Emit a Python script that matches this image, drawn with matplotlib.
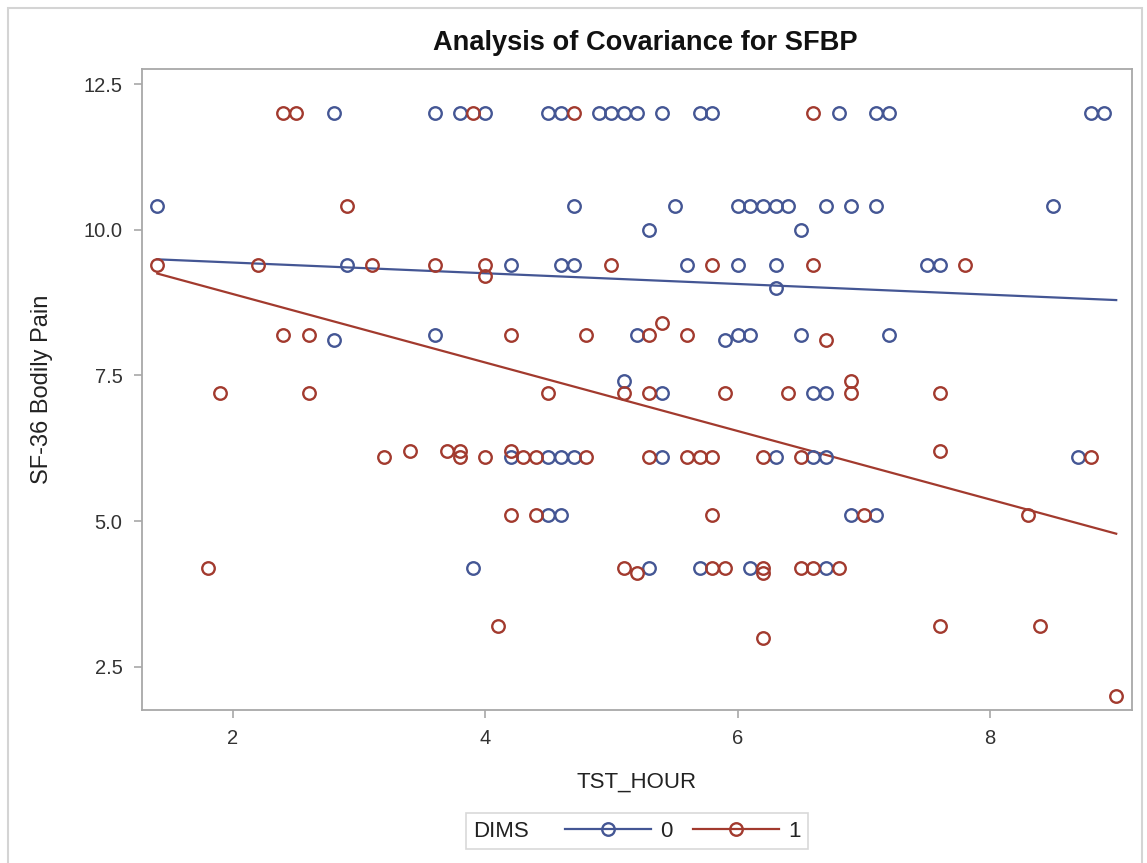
import matplotlib

matplotlib.use("Agg")
import matplotlib.pyplot as plt
import numpy as np
from matplotlib.lines import Line2D
from matplotlib.offsetbox import HPacker
from matplotlib.patches import Rectangle

# DIMS = 0 (blue): TST_HOUR and SF-36 bodily pain, grouped by pain score rows
dims0_x = [2.8, 3.6, 3.8, 4.0, 4.5, 4.6, 4.9, 5.0, 5.1, 5.2, 5.4, 5.7, 5.8, 6.8, 7.1, 7.2, 8.8, 8.9,
           1.4, 4.7, 5.5, 6.0, 6.1, 6.2, 6.3, 6.4, 6.7, 6.9, 7.1, 8.5,
           5.3, 6.5,
           2.9, 4.2, 4.6, 4.7, 5.6, 6.0, 6.3, 7.5, 7.6,
           6.3,
           3.6, 5.2, 6.0, 6.1, 6.5, 7.2,
           2.8, 5.9,
           5.1,
           5.4, 6.6, 6.7,
           4.2, 4.5, 4.6, 4.7, 5.4, 6.3, 6.6, 6.7, 8.7,
           4.5, 4.6, 6.9, 7.1,
           3.9, 5.3, 5.7, 6.1, 6.7]
dims0_y = [12.0] * 18 + [10.4] * 12 + [10.0] * 2 + [9.4] * 9 + [9.0] + [8.2] * 6 + [8.1] * 2 \
    + [7.4] + [7.2] * 3 + [6.1] * 9 + [5.1] * 4 + [4.2] * 5

# DIMS = 1 (red)
dims1_x = [2.4, 2.5, 3.9, 4.7, 6.6,
           2.9,
           1.4, 2.2, 3.1, 3.6, 4.0, 5.0, 5.8, 6.6, 7.8,
           4.0,
           5.4,
           2.4, 2.6, 4.2, 4.8, 5.3, 5.6,
           6.7,
           6.9,
           1.9, 2.6, 4.5, 5.1, 5.3, 5.9, 6.4, 6.9, 7.6,
           3.4, 3.7, 3.8, 4.2, 7.6,
           3.2, 3.8, 4.0, 4.3, 4.4, 4.8, 5.3, 5.6, 5.7, 5.8, 6.2, 6.5, 8.8,
           4.2, 4.4, 5.8, 7.0, 8.3,
           1.8, 5.1, 5.8, 5.9, 6.2, 6.5, 6.6, 6.8,
           5.2, 6.2,
           4.1, 7.6, 8.4,
           6.2,
           9.0]
dims1_y = [12.0] * 5 + [10.4] + [9.4] * 9 + [9.2] + [8.4] + [8.2] * 6 + [8.1] + [7.4] \
    + [7.2] * 9 + [6.2] * 5 + [6.1] * 13 + [5.1] * 5 + [4.2] * 8 + [4.1] * 2 + [3.2] * 3 \
    + [3.0] + [2.0]

groups = ["0", "1"]
# ANCOVA fitted lines per group
fit_intercept = [9.62, 10.07]
fit_slope = [-0.092, -0.5875]
colors = ["#445694", "#A23A2E"]
x_ticks = [2, 4, 6, 8]
y_ticks = [2.5, 5.0, 7.5, 10.0, 12.5]

TICK = "#333333"
FRAME = "#a8a8a8"
plt.rcParams.update({
    "font.family": ["Liberation Sans", "DejaVu Sans"],
    "axes.edgecolor": FRAME,
    "axes.linewidth": 1.3,
    "xtick.color": FRAME, "ytick.color": FRAME,
    "xtick.labelcolor": TICK, "ytick.labelcolor": TICK,
})

fig = plt.figure(figsize=(11.47, 8.63), dpi=100)
ax = fig.add_axes([0.1238, 0.1773, 0.8631, 0.7427])

data = [(np.array(dims0_x), np.array(dims0_y)),
        (np.array(dims1_x), np.array(dims1_y))]
x_all = np.concatenate([d[0] for d in data])
x_line = np.array([x_all.min(), x_all.max()])

handles = []
for (x, y), c, b0, b1 in zip(data, colors, fit_intercept, fit_slope):
    ax.plot(x_line, b0 + b1 * x_line, color=c, lw=1.6, zorder=2)
    ax.plot(x, y, ls="none", marker="o", ms=9, mfc="none", mec=c, mew=1.7, zorder=3)
    handles.append(Line2D([0, 0.5, 1], [0, 0, 0], color=c, lw=1.6, marker="o", ms=9,
                          mfc="none", mec=c, mew=1.7, markevery=[1]))

ax.set_xlim(1.279, 9.125)
ax.set_ylim(1.757, 12.757)
ax.set_xticks(x_ticks)
ax.set_yticks(y_ticks)
ax.set_yticklabels([f"{v:.1f}" for v in y_ticks])
ax.tick_params(direction="out", length=6, width=1.2, labelsize=14.5, pad=8)
ax.set_xlabel("TST_HOUR", fontsize=16, color="#222222", labelpad=17)
ax.set_ylabel("SF-36 Bodily Pain", fontsize=17, color="#222222", labelpad=22)
ax.set_title("Analysis of Covariance for SFBP", fontsize=19.6, fontweight="bold",
             color="#111111", pad=14, x=0.508)

# legend: "DIMS" sits inline to the left of the entries, as in SAS
leg = fig.legend(handles, groups, title="DIMS", ncol=2, loc="center",
                 bbox_to_anchor=(0.5554, 0.037), frameon=True, fancybox=False,
                 edgecolor="#cfcfcf", fontsize=16, title_fontsize=16,
                 handlelength=3.9, handletextpad=0.4, columnspacing=0.9,
                 borderpad=0.35)
leg.get_frame().set_linewidth(1.2)
for t in leg.get_texts():
    t.set_color("#222222")
leg.get_title().set_color("#222222")
fs = leg._fontsize
box = HPacker(pad=leg.borderpad * fs, sep=1.6 * fs, align="center",
              children=[leg._legend_title_box, leg._legend_handle_box])
box.set_figure(fig)
box.set_offset(leg._findoffset)
leg._legend_box = box

# outer light border of the exported graph
fig.patches.append(Rectangle((8 / 1147, -0.02), 1134 / 1147, 1.02 - 8 / 863,
                             transform=fig.transFigure, fill=False,
                             edgecolor="#d4d4d4", lw=1.5))

fig.savefig("out.png", dpi=100)
